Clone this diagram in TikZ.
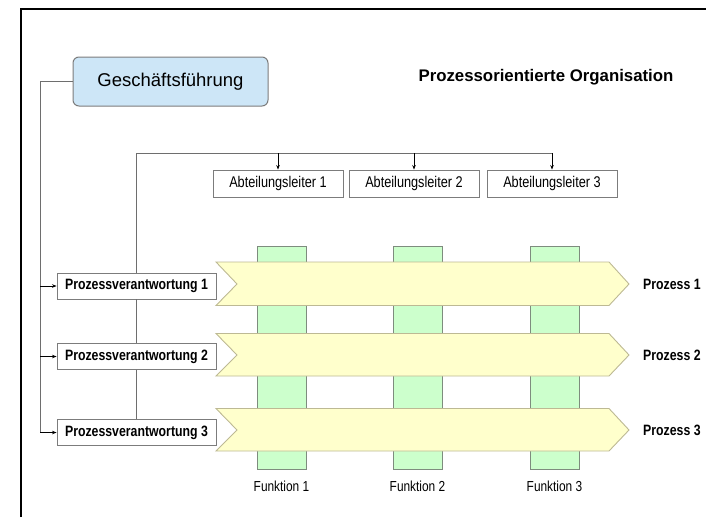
\documentclass[tikz,border=0pt]{standalone}
\usepackage{fontspec}
\setmainfont{Liberation Sans}
\newfontfamily\narrowfont[FakeStretch=0.82]{Liberation Sans}
\usetikzlibrary{arrows.meta}
\definecolor{lineGray}{HTML}{6E6E6E}
\definecolor{boxEdge}{HTML}{7C7C7C}
\definecolor{blueFill}{HTML}{CDE6F7}
\definecolor{yellowFill}{HTML}{FFFFCC}
\definecolor{yellowEdge}{HTML}{BDB994}
\definecolor{greenFill}{HTML}{CCFFCC}
\definecolor{greenEdge}{HTML}{7E8C7E}
\begin{document}
\begin{tikzpicture}[x=1pt,y=-1pt,
  conn/.style={draw=lineGray,line width=0.9pt},
  arr/.style={conn,-{Stealth[length=4.5pt,width=3.5pt]},black},
  gfbox/.style={draw=boxEdge,fill=blueFill,rounded corners=6pt,line width=1pt,
    minimum width=195pt,minimum height=49pt,inner sep=0pt,
    font=\fontsize{18.5}{20}\selectfont},
  albox/.style={draw=boxEdge,fill=white,line width=0.9pt,minimum width=130pt,
    minimum height=27pt,inner sep=0pt,font=\narrowfont\fontsize{15.5}{17}\selectfont},
  pvbox/.style={draw=boxEdge,fill=white,line width=0.9pt,minimum width=159pt,
    minimum height=26pt,inner sep=0pt,font=\narrowfont\bfseries\fontsize{15}{17}\selectfont},
  fbar/.style={draw=greenEdge,fill=greenFill,line width=0.9pt,minimum width=49pt,
    minimum height=223pt,inner sep=0pt},
  band/.style={draw=yellowEdge,fill=yellowFill,line width=0.9pt},
  plabel/.style={anchor=west,inner sep=0pt,font=\narrowfont\bfseries\fontsize{15}{17}\selectfont},
  flabel/.style={inner sep=0pt,font=\narrowfont\fontsize{14.5}{16}\selectfont}
]
\useasboundingbox (0,0) rectangle (706,517);
% frame
\draw[line width=2pt,black] (21,517) -- (21,9) -- (706,9);

% function bars
\node[fbar] (f1) at (281.5,357.5) {};
\node[fbar] (f2) at (417.5,357.5) {};
\node[fbar] (f3) at (554.5,357.5) {};

% process bands
\path[band] (216,262) -- (609,262) -- (629,284) -- (609,305.5) -- (216,305.5) -- (237,284) -- cycle;
\path[band] (216,333.5) -- (609,333.5) -- (629,355) -- (609,376) -- (216,376) -- (237,355) -- cycle;
\path[band] (216,408.5) -- (609,408.5) -- (629,430) -- (609,451) -- (216,451) -- (237,430) -- cycle;

% labels
\node[plabel] (p1) at (643,284) {Prozess 1};
\node[plabel] (p2) at (643,355) {Prozess 2};
\node[plabel] (p3) at (643,430) {Prozess 3};
\node[flabel] (fl1) at (281.5,486) {Funktion 1};
\node[flabel] (fl2) at (417.5,486) {Funktion 2};
\node[flabel] (fl3) at (554.5,486) {Funktion 3};

% title
\node[inner sep=0pt,font=\bfseries\fontsize{16.8}{18}\selectfont] (title) at (546,77) {Prozessorientierte Organisation};

% Geschäftsführung
\node[gfbox] (gf) at (170.5,81.5) {Geschäftsführung};

% Abteilungsleiter
\node[albox] (al1) at (278,183.5) {Abteilungsleiter 1};
\node[albox] (al2) at (414,183.5) {Abteilungsleiter 2};
\node[albox] (al3) at (552,183.5) {Abteilungsleiter 3};

% Prozessverantwortung
\node[pvbox] (pv1) at (136.5,286) {Prozessverantwortung 1};
\node[pvbox] (pv2) at (136.5,356.5) {Prozessverantwortung 2};
\node[pvbox] (pv3) at (136.5,432.5) {Prozessverantwortung 3};

% connectors from Geschäftsführung
\coordinate (g1) at (40,81.5);
\draw[conn] (gf.west) -- (g1) -- (g1 |- pv3.west);
\draw[arr] (g1 |- pv1.west) -- (pv1.west);
\draw[arr] (g1 |- pv2.west) -- (pv2.west);
\draw[arr] (g1 |- pv3.west) -- (pv3.west);

% top distribution line
\coordinate (t0) at (136.5,153);
\draw[conn] (t0) -- (t0 -| al3.north);
\draw[conn] (t0) -- (pv1.north);
\draw[conn] (pv1.south) -- (pv2.north);
\draw[conn] (pv2.south) -- (pv3.north);
\draw[arr] (t0 -| al1.north) -- (al1.north);
\draw[arr] (t0 -| al2.north) -- (al2.north);
\draw[arr] (t0 -| al3.north) -- (al3.north);
\end{tikzpicture}
\end{document}
